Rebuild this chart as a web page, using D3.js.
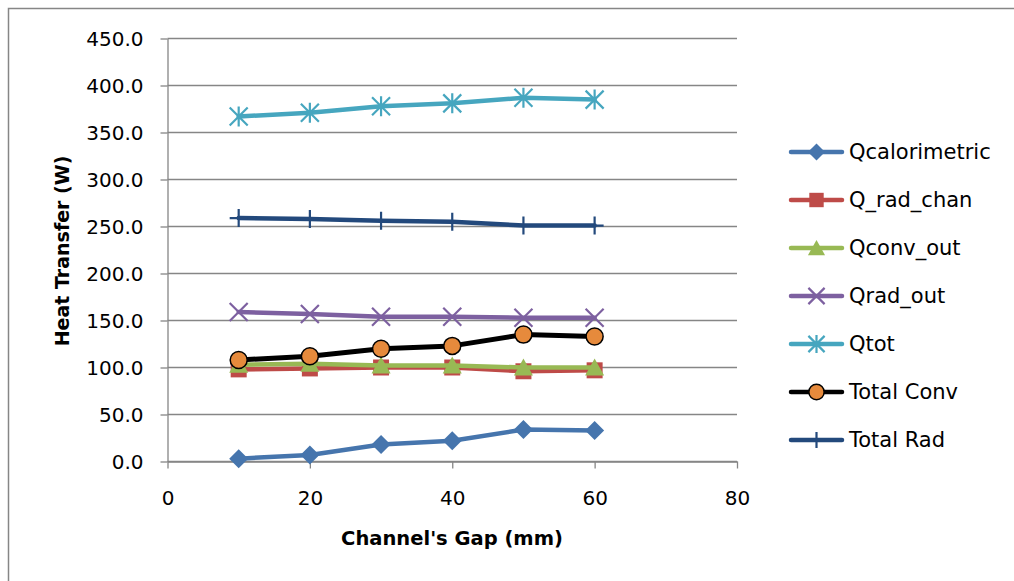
<!DOCTYPE html>
<html>
<head>
<meta charset="utf-8">
<script src="https://cdn.jsdelivr.net/npm/d3@7"></script>
<style>
  body { margin: 0; background: #ffffff; }
</style>
</head>
<body>
<script>
// channel gap (mm) on x
const gaps = [10, 20, 30, 40, 50, 60];

// heat transfer (W)
const qCalorimetric = [3, 7, 18, 22, 34, 33];
const qRadChan      = [98, 99, 100, 100, 96, 97];
const qConvOut      = [103, 104, 102, 102, 100, 100];
const qRadOut       = [159, 157, 154, 154, 153, 153];
const qTot          = [367, 371, 378, 381, 387, 385];
const totalConv     = [108, 112, 120, 123, 135, 133];
const totalRad      = [259, 258, 256, 255, 251, 251];

const seriesNames = ["Qcalorimetric", "Q_rad_chan", "Qconv_out", "Qrad_out", "Qtot", "Total Conv", "Total Rad"];

const xTicks = [0, 20, 40, 60, 80];
const yTicks = [0, 50, 100, 150, 200, 250, 300, 350, 400, 450];

const canvasW = 1014;
const canvasH = 581;
const gridColor = "#868686";

// look of every series, same order as seriesNames
const looks = [
  { line: "#4675AD", fill: "#4675AD", marker: "diamond" },
  { line: "#BE4B48", fill: "#BE4B48", marker: "square" },
  { line: "#98B954", fill: "#98B954", marker: "triangle" },
  { line: "#7D60A0", fill: "none", marker: "x" },
  { line: "#46A6BF", fill: "none", marker: "star" },
  { line: "#000000", fill: "#E68A3C", marker: "circle" },
  { line: "#23497C", fill: "none", marker: "plus" }
];

const values = [qCalorimetric, qRadChan, qConvOut, qRadOut, qTot, totalConv, totalRad];

const series = seriesNames.map((name, i) => ({
  name: name,
  look: looks[i],
  points: gaps.map((g, j) => ({ x: g, y: values[i][j] }))
}));

const svg = d3.select("body").append("svg")
  .attr("width", canvasW)
  .attr("height", canvasH)
  .style("display", "block");

// chart frame (only top and left edges fall inside the window)
svg.append("path")
  .attr("d", "M8.5,600 V8.5 H1020")
  .attr("fill", "none")
  .attr("stroke", gridColor)
  .attr("stroke-width", 1.5);

const x = d3.scaleLinear().domain([0, 80]).range([167.5, 737]);
const y = d3.scaleLinear().domain([0, 450]).range([461.5, 38.5]);

// horizontal grid
svg.append("g")
  .selectAll("line")
  .data(yTicks)
  .enter()
    .append("line")
      .attr("x1", x(0))
      .attr("x2", x(80))
      .attr("y1", d => y(d))
      .attr("y2", d => y(d))
      .attr("stroke", gridColor)
      .attr("stroke-width", 1.3);

const yAxis = svg.append("g")
  .attr("transform", `translate(${x(0)},0)`)
  .call(d3.axisLeft(y).tickValues(yTicks).tickSize(7).tickSizeOuter(0).tickFormat(d3.format(".1f")));

const xAxis = svg.append("g")
  .attr("transform", `translate(0,${y(0)})`)
  .call(d3.axisBottom(x).tickValues(xTicks).tickSize(7).tickSizeOuter(0));

[yAxis, xAxis].forEach(a => {
  a.selectAll(".domain").attr("stroke", gridColor).attr("stroke-width", 1.3);
  a.selectAll(".tick line").attr("stroke", gridColor).attr("stroke-width", 1.3);
  a.selectAll("text")
    .attr("font-family", "DejaVu Sans, sans-serif")
    .attr("font-size", "20px")
    .attr("fill", "#000");
});
yAxis.selectAll("text").attr("x", -24).attr("dy", "0.35em");
xAxis.selectAll("text").attr("y", 36).attr("dy", "0.35em");

// axis titles
svg.append("text")
  .attr("transform", "translate(62,251) rotate(-90)")
  .attr("text-anchor", "middle")
  .attr("dy", "0.35em")
  .attr("font-family", "DejaVu Sans, sans-serif")
  .attr("font-weight", "bold")
  .attr("font-size", "19px")
  .text("Heat Transfer (W)");

svg.append("text")
  .attr("x", 452)
  .attr("y", 538)
  .attr("text-anchor", "middle")
  .attr("dy", "0.35em")
  .attr("font-family", "DejaVu Sans, sans-serif")
  .attr("font-weight", "bold")
  .attr("font-size", "19.5px")
  .text("Channel's Gap (mm)");

// marker shapes, centred on 0,0
function markerPath(type) {
  switch (type) {
    case "diamond": return "M0,-9.5 L9.5,0 L0,9.5 L-9.5,0Z";
    case "square": return "M-8,-8 H8 V8 H-8Z";
    case "triangle": return "M0,-9 L9.5,8 L-9.5,8Z";
    case "x": return "M-9,-9 L9,9 M-9,9 L9,-9";
    case "star": return "M-9,-9 L9,9 M-9,9 L9,-9 M0,-10 V10";
    case "plus": return "M-9,0 H9 M0,-9 V9";
  }
  return "";
}

function addMarker(g, look, cx, cy, k) {
  if (look.marker == "circle") {
    g.append("circle")
      .attr("cx", cx)
      .attr("cy", cy)
      .attr("r", 8.5 * k)
      .attr("fill", look.fill)
      .attr("stroke", "#000")
      .attr("stroke-width", 1.5);
    return;
  }
  const filled = look.fill != "none";
  g.append("path")
    .attr("transform", `translate(${cx},${cy}) scale(${k})`)
    .attr("d", markerPath(look.marker))
    .attr("fill", filled ? look.fill : "none")
    .attr("stroke", filled ? "none" : look.line)
    .attr("stroke-width", filled ? 0 : 2.2 / k);
}

const line = d3.line()
  .x(d => x(d.x))
  .y(d => y(d.y));

series.forEach(s => {
  const g = svg.append("g");
  g.append("path")
    .attr("d", line(s.points))
    .attr("fill", "none")
    .attr("stroke", s.look.line)
    .attr("stroke-width", s.look.marker == "circle" ? 5 : 4.5)
    .attr("stroke-linejoin", "round")
    .attr("stroke-linecap", "round");
  s.points.forEach(p => addMarker(g, s.look, x(p.x), y(p.y), 1));
});

// legend
const legend = svg.append("g");
series.forEach((s, i) => {
  const ly = 152 + i * 48;
  legend.append("line")
    .attr("x1", 791)
    .attr("x2", 842)
    .attr("y1", ly)
    .attr("y2", ly)
    .attr("stroke", s.look.line)
    .attr("stroke-width", 4.5)
    .attr("stroke-linecap", "round");
  addMarker(legend, s.look, 816.5, ly, 0.9);
  legend.append("text")
    .attr("x", 849)
    .attr("y", ly)
    .attr("dy", "0.35em")
    .attr("font-family", "DejaVu Sans, sans-serif")
    .attr("font-size", "21px")
    .attr("fill", "#000")
    .text(s.name);
});
</script>
</body>
</html>
